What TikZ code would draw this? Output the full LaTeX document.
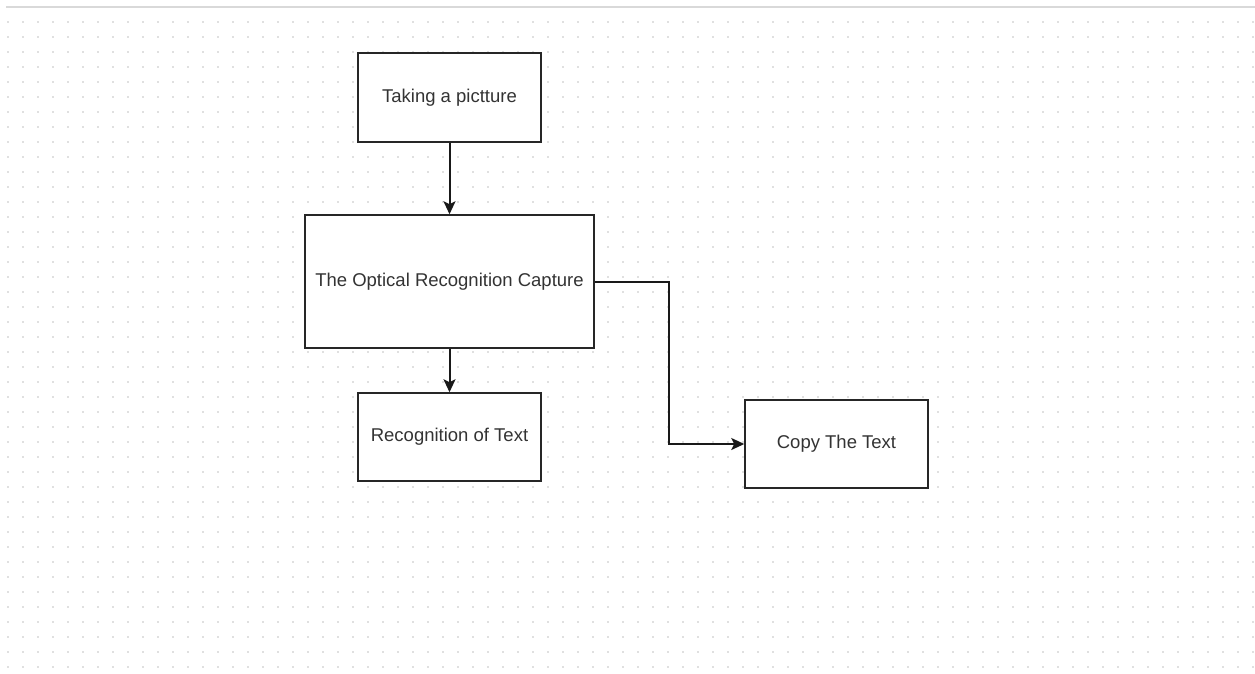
\documentclass[tikz,border=0pt]{standalone}
\usepackage{fontspec}
\setmainfont{Liberation Sans}
\usetikzlibrary{arrows.meta}
\begin{document}
\begin{tikzpicture}[x=1pt,y=-1pt]
  \tikzset{
    stepbox/.style={draw=black!85, line width=1.5pt, fill=white, inner sep=0pt,
      font=\fontsize{18.5}{22}\selectfont, text=black!80},
    flowline/.style={draw=black!90, line width=2pt,
      -{Stealth[length=13pt,width=12pt,inset=3pt]}}
  }
  % canvas
  \useasboundingbox (0,0) rectangle (1255,674);
  \fill[white] (0,0) rectangle (1255,674);
  \draw[black!15, line width=2pt] (6,7.5) -- (1255,7.5);
  % dotted grid
  \foreach \gx in {0,...,83} {
    \foreach \gy in {0,...,43} {
      \fill[black!12] ({8+15*\gx-0.8},{22+15*\gy-0.8}) rectangle ++(1.6,1.6);
    }
  }
  % boxes
  \node[stepbox, minimum width=183pt, minimum height=89pt] (pic) at (449.5,97.5) {Taking a pictture};
  \node[stepbox, minimum width=289pt, minimum height=133pt] (ocr) at (449.5,281.5) {The Optical Recognition Capture};
  \node[stepbox, minimum width=183pt, minimum height=88pt] (rec) at (449.5,437) {Recognition of Text};
  \node[stepbox, minimum width=183pt, minimum height=88pt] (copy) at (836.5,444) {Copy The Text};
  % connectors
  \draw[flowline] (pic) -- (ocr);
  \draw[flowline] (ocr) -- (rec);
  \draw[flowline] (ocr.east) -- (669,281.5) |- (copy.west);
\end{tikzpicture}
\end{document}
